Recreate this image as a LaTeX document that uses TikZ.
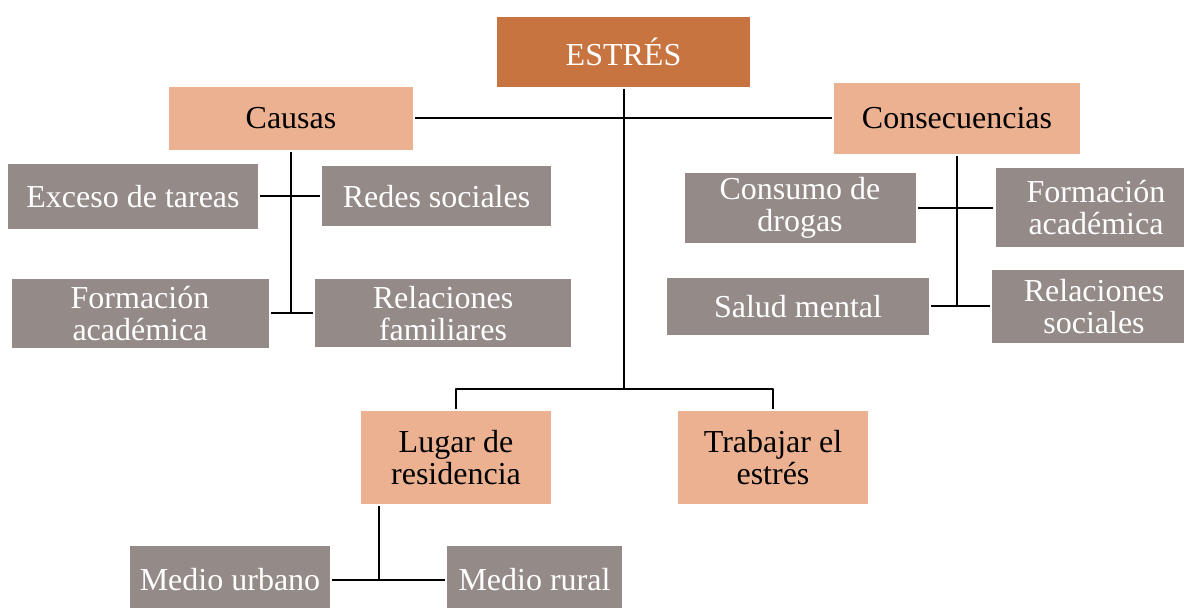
\documentclass[tikz,border=0pt]{standalone}
\usepackage{fontspec}
\setmainfont{Liberation Serif}
\definecolor{estrescol}{HTML}{C87441}
\definecolor{salmon}{HTML}{ECB191}
\definecolor{grisbox}{HTML}{948A88}
\begin{document}
\begin{tikzpicture}[x=0.5pt,y=-0.5pt,line join=round,line width=1pt,font=\fontsize{16}{16}\selectfont]
				\tikzset{
						caja/.style={inner sep=0pt,outer sep=1.2pt,align=center},
						raiz/.style={caja,fill=estrescol,text=white},
						tema/.style={caja,fill=salmon,text=black},
						item/.style={caja,fill=grisbox,text=white},
				}
				\useasboundingbox (0,0) rectangle (1184,608);
				% centro
				\node[raiz,minimum width=126.5pt,minimum height=35pt] (estres) at (623.5,52) {ESTRÉS};
				\node[tema,minimum width=122pt,minimum height=31.5pt] (causas) at (291,118.5) {Causas};
				\node[tema,minimum width=123pt,minimum height=35.5pt] (consec) at (957,118.5) {Consecuencias};
				\node[tema,minimum width=95pt,minimum height=46.5pt] (lugar) at (456,457.5) {Lugar de\\residencia};
				\node[tema,minimum width=95pt,minimum height=46.5pt] (trabajar) at (773,457.5) {Trabajar el\\estrés};
				% causas
				\node[item,minimum width=125pt,minimum height=32.5pt] (exceso) at (133,196.5) {Exceso de tareas};
				\node[item,minimum width=114.5pt,minimum height=30pt] (redes) at (436.5,196.5) {Redes sociales};
				\node[item,minimum width=128.5pt,minimum height=34.5pt] (formA) at (140,313.5) {Formación\\académica};
				\node[item,minimum width=128pt,minimum height=34pt] (relfam) at (443,313.5) {Relaciones\\familiares};
				% consecuencias
				\node[item,minimum width=115.5pt,minimum height=35pt] (consumo) at (800,208) {Consumo de\\drogas};
				\node[item,minimum width=100.5pt,minimum height=39.5pt] (formB) at (1096,208) {Formación\\académica};
				\node[item,minimum width=131pt,minimum height=28.5pt] (salud) at (798,306.5) {Salud mental};
				\node[item,minimum width=102pt,minimum height=36.5pt] (relsoc) at (1094,306.5) {Relaciones\\sociales};
				% lugar de residencia
				\node[item,minimum width=100pt,minimum height=34pt] (urbano) at (230,580) {Medio urbano};
				\node[item,minimum width=87.5pt,minimum height=34pt] (rural) at (534.5,580) {Medio rural};
				% lineas
				\coordinate (fork) at (623.5,389);
				\coordinate (split) at (379,580);
				\draw (causas)--(consec);
				\draw (estres)--(fork);
				\draw (lugar.north)|-(fork)-|(trabajar.north);
				\draw (causas)--(causas|-relfam.west);
				\draw (exceso)--(redes);
				\draw (formA)--(relfam);
				\draw (consec)--(consec|-relsoc.west);
				\draw (consumo)--(formB);
				\draw (salud)--(relsoc);
				\draw (split)--(split|-lugar.south);
				\draw (urbano)--(rural);
			\end{tikzpicture}
\end{document}
